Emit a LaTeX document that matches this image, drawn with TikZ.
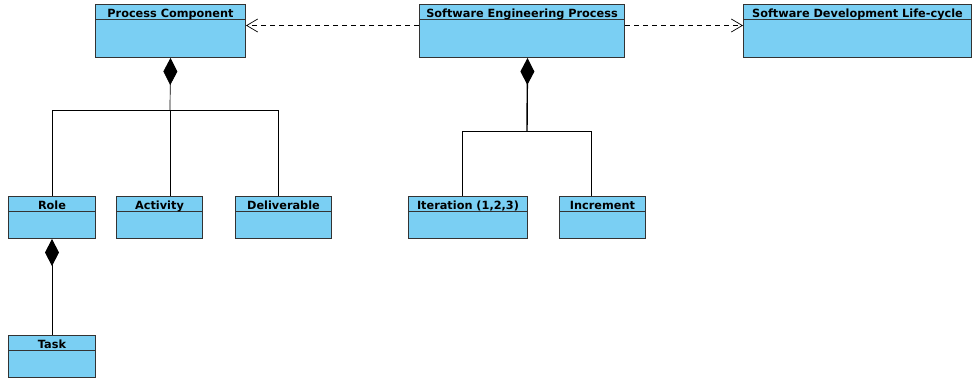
\documentclass[tikz,border=0pt]{standalone}
\usepackage{fontspec}
\setmainfont{DejaVu Sans}
\usetikzlibrary{arrows.meta, calc}
\definecolor{cfill}{HTML}{7ACFF3}
\definecolor{cedge}{HTML}{333333}
\tikzset{
  every picture/.style={font=\bfseries\fontsize{11.3}{13}\selectfont, line width=0.7pt},
  classbox/.style={draw=cedge, fill=cfill, line width=1pt, anchor=north west, inner sep=0pt,
    text height=12.5pt, text depth=#1-12.5pt, minimum height=#1,
    path picture={\draw[cedge, line width=1.4pt] ([yshift=-15pt]path picture bounding box.north west) -- ([yshift=-15pt]path picture bounding box.north east);}},
  classbox/.default=53pt,
  compose/.style={{Diamond[length=27pt, width=14pt]}-, draw=black},
  depend/.style={-{Straight Barb[length=11pt, width=13pt]}, dash pattern=on 5pt off 4pt, draw=black},
}

\begin{document}
\begin{tikzpicture}[x=1pt, y=-1pt]
  \useasboundingbox (0,0) rectangle (976,381);
  % top row
  \node[classbox, minimum width=150pt] (pc) at (95,4) {Process Component};
  \node[classbox, minimum width=205pt] (sep) at (419,4) {Software Engineering Process};
  \node[classbox, minimum width=228pt] (sdlc) at (743,4) {Software Development Life-cycle};
  % parts
  \node[classbox=42pt, minimum width=87pt] (role) at (8,196) {Role};
  \node[classbox=42pt, minimum width=86pt] (activity) at (116,196) {Activity};
  \node[classbox=42pt, minimum width=96pt] (deliverable) at (235,196) {Deliverable};
  \node[classbox=42pt, minimum width=119pt] (iteration) at (408,196) {Iteration (1,2,3)};
  \node[classbox=42pt, minimum width=86pt] (increment) at (559,196) {Increment};
  \node[classbox=42pt, minimum width=87pt] (task) at (8,335) {Task};

  % dependencies
  \draw[depend] ([yshift=5.5pt]sep.west) -- ([yshift=5.5pt]pc.east);
  \draw[depend] ([yshift=5.5pt]sep.east) -- ([yshift=5.5pt]sdlc.west);

  % composition trees
  \coordinate (pcj) at (170,110);
  \draw[compose] (pc.south) -- (pcj);
  \draw (pcj) -| (role.north);
  \draw (pcj) -- (pcj |- activity.north);
  \draw (pcj) -| ([xshift=-5pt]deliverable.north);

  \coordinate (sepj) at (527,131);
  \draw[compose, line width=1.4pt] ([xshift=5.5pt]sep.south) -- (sepj);
  \draw (sepj) -| ([xshift=-5.5pt]iteration.north);
  \draw (sepj) -| ([xshift=-11pt]increment.north);

  \draw[compose] (role.south) -- (task.north);
\end{tikzpicture}
\end{document}
